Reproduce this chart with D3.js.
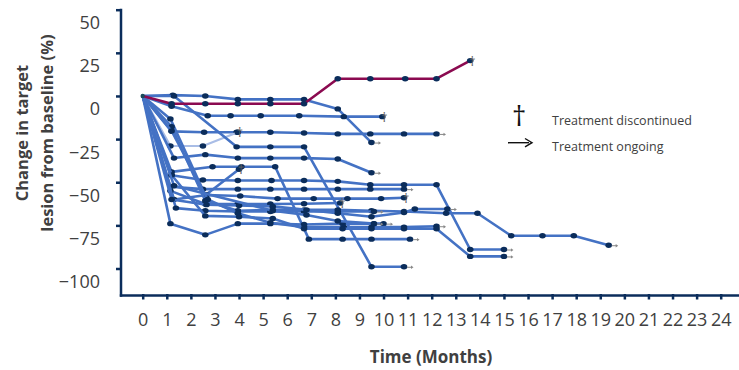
<!DOCTYPE html>
<html>
<head>
<meta charset="utf-8">
<script src="https://cdn.jsdelivr.net/npm/d3@7"></script>
<style>
  body { margin: 0; background: #fff; }
  svg text { font-family: "Open Sans", "Noto Sans", sans-serif; }
</style>
</head>
<body>
<div id="chart"></div>
<script>
// --- DATA ---
// each patient: [month, % change from baseline]
const pt01 = [[0,0],[1.2,-4.5],[2.6,-4.5],[3.95,-4.5],[5.3,-4.5],[6.7,-4.5],[8.1,10],[9.45,10],[10.9,10],[12.2,10],[13.6,20.5]];
const pt02 = [[0,0],[1.25,0.5],[2.6,0],[3.95,-2],[5.3,-2],[6.7,-2],[8.1,-7.5],[9.5,-27]];
const pt03 = [[0,0],[1.2,-6],[2.7,-11.5],[3.65,-11.5],[4.9,-11.5],[6.5,-11.5],[8.35,-12],[9.95,-12]];
const pt04 = [[0,0],[1.2,-20.5],[2.55,-21],[3.9,-21],[5.3,-21],[6.7,-21.5],[8.1,-22],[9.45,-22],[10.85,-22],[12.2,-22]];
const pt05 = [[0,0],[1.15,-29],[2.5,-29],[3.95,-21]];
const pt06 = [[0,0],[1.3,0],[3.9,-29.5],[5.3,-29.5],[6.7,-29.5],[9.5,-99],[10.85,-99]];
const pt07 = [[0,0],[1.3,-36],[2.6,-34],[3.95,-36],[5.3,-36],[6.7,-36],[8.1,-36.5],[9.5,-44.5]];
const pt08 = [[0,0],[1.2,-44],[2.9,-41],[4.1,-41],[5.5,-41],[6.9,-83],[8.3,-83],[9.5,-83],[11.1,-83]];
const pt09 = [[0,0],[1.15,-13.3],[2.6,-57.5],[4.0,-42.5]];
const pt10 = [[0,0],[1.2,-46],[2.5,-48.7],[3.95,-49],[5.35,-49],[6.7,-49],[8.1,-49.5],[9.45,-51.5],[10.85,-51.5],[12.2,-51.5],[13.6,-89],[15,-89]];
const pt11 = [[0,0],[1.15,-52.6],[2.5,-54],[3.95,-54],[5.3,-54],[6.7,-54],[8.1,-54],[9.45,-54],[10.85,-54]];
const pt12 = [[0,0],[1.3,-60],[2.65,-57.4],[4.05,-58],[5.6,-59.5],[7.1,-59.5],[8.5,-59.5],[9.9,-59.5],[10.85,-59]];
const pt13 = [[0,0],[1.15,-55],[2.6,-62.6],[3.95,-62.6],[5.3,-62.6],[6.7,-62.5],[8.2,-62]];
const pt14 = [[0,0],[1.2,-17.8],[2.6,-60.7],[3.95,-66.5],[5.4,-66],[6.7,-66],[8.1,-66],[9.5,-66.5],[10.85,-67],[12.6,-68],[13.9,-68],[15.3,-81],[16.6,-81],[17.9,-81],[19.35,-86.5]];
const pt15 = [[0,0],[1.38,-65],[2.6,-66.5],[3.95,-67],[5.3,-67],[6.7,-67],[8.1,-67],[9.6,-67]];
const pt16 = [[0,0],[1.15,-74],[2.6,-80.5],[3.95,-74],[5.3,-74],[6.7,-74.5],[8.3,-74],[9.6,-74],[10,-74]];
const pt17 = [[0,0],[1.2,-20.3],[2.7,-60],[3.95,-68],[5.3,-73.5],[6.7,-76],[8.35,-76],[9.5,-76],[10.85,-76],[12.2,-75.5]];
const pt18 = [[0,0],[1.2,-45.8],[2.6,-69.5],[4.0,-70],[5.4,-71],[6.7,-77],[8.3,-77],[9.5,-77],[10.85,-77],[12.2,-77],[13.6,-93],[15,-93]];
const pt19 = [[0,0],[1.2,-60],[2.65,-63],[4.0,-63.5],[5.4,-64],[6.8,-66],[8.1,-68],[9.5,-70],[10.85,-67.5],[11.3,-65.5],[12.65,-65.5]];
const pt20 = [[0,0],[1.3,-52],[5.4,-66.5],[6.8,-69],[8.1,-72.5],[9.6,-74]];

const patients = [pt02, pt03, pt04, pt05, pt06, pt07, pt08, pt09, pt10, pt11, pt12, pt13, pt14, pt15, pt16, pt17, pt18, pt19, pt20, pt01];
const endings  = ["arrow", "dagger", "arrow", "dagger", "arrow", "arrow", "arrow", "dagger", "arrow", "arrow", "dagger", "dagger", "arrow", "arrow", "arrow", "arrow", "arrow", "arrow", "arrow", "dagger"];
const lineKinds = ["blue", "blue", "blue", "light", "blue", "blue", "blue", "blue", "blue", "blue", "blue", "blue", "blue", "blue", "blue", "blue", "blue", "blue", "blue", "maroon"];

const xTicks = d3.range(0, 25);
const yTicks = [50, 25, 0, -25, -50, -75, -100];
const legendItems = ["Treatment discontinued", "Treatment ongoing"];

// --- LAYOUT ---
const width = 739, height = 370;
const navy = "#0b2d5b";
const textGray = "#404040";
const colors = { blue: "#4472c4", light: "#a9bde6", maroon: "#8b0a50" };

const x = d3.scaleLinear().domain([0, 24]).range([142.7, 720.7]);
const y = d3.scaleLinear().domain([-100, 50]).range([268.5, 9.7]);
const axisX = 121;
const axisY = 295.5;

const svg = d3.select("#chart").append("svg")
    .attr("width", width)
    .attr("height", height);

// y axis
const yAxis = svg.append("g")
    .attr("transform", `translate(${axisX},0)`)
    .call(d3.axisLeft(y).tickValues(yTicks).tickSize(5).tickPadding(16).tickFormat(d3.format("d")));
yAxis.select(".domain").remove();
yAxis.selectAll(".tick line").attr("stroke", navy).attr("stroke-width", 2.5);
yAxis.selectAll(".tick text")
    .attr("dy", "1.05em")
    .attr("fill", textGray)
    .style("font-size", "18px");
svg.append("line")
    .attr("x1", axisX).attr("x2", axisX)
    .attr("y1", y(50) - 1).attr("y2", axisY + 1.2)
    .attr("stroke", navy).attr("stroke-width", 2.5);

// x axis
const xAxis = svg.append("g")
    .attr("transform", `translate(0,${axisY})`)
    .call(d3.axisBottom(x).tickValues(xTicks).tickSize(4).tickPadding(14));
xAxis.select(".domain").remove();
xAxis.selectAll(".tick line").attr("stroke", navy).attr("stroke-width", 2.5).attr("y1", -1.5);
xAxis.selectAll(".tick text")
    .attr("fill", textGray)
    .style("font-size", "18px");
svg.append("line")
    .attr("x1", axisX - 1.2).attr("x2", width)
    .attr("y1", axisY).attr("y2", axisY)
    .attr("stroke", navy).attr("stroke-width", 2.5);

// axis titles
svg.append("text")
    .attr("x", 431).attr("y", 363)
    .attr("text-anchor", "middle")
    .attr("fill", textGray)
    .style("font-size", "17px").style("font-weight", "bold")
    .text("Time (Months)");

const yTitle = svg.append("text")
    .attr("transform", "translate(0,133) rotate(-90)")
    .attr("text-anchor", "middle")
    .attr("fill", textGray)
    .style("font-size", "16.5px").style("font-weight", "bold");
yTitle.append("tspan").attr("x", 0).attr("y", 28).text("Change in target");
yTitle.append("tspan").attr("x", 0).attr("y", 53).text("lesion from baseline (%)");

// --- SPIDER LINES ---
const line = d3.line().x(d => x(d[0])).y(d => y(d[1]));

const plot = svg.append("g");
const groups = plot.selectAll("g.patient")
    .data(patients)
    .join("g")
    .attr("class", "patient");

groups.append("path")
    .attr("d", d => line(d))
    .attr("fill", "none")
    .attr("stroke", (d, i) => colors[lineKinds[i]])
    .attr("stroke-width", (d, i) => lineKinds[i] === "light" ? 2.2 : 2.6)
    .attr("stroke-linejoin", "round");

groups.selectAll("ellipse")
    .data(d => d.slice(1))
    .join("ellipse")
    .attr("cx", d => x(d[0]))
    .attr("cy", d => y(d[1]))
    .attr("rx", 3.3)
    .attr("ry", 2.7)
    .attr("fill", navy);

// end-of-line symbols
const ends = patients.map((p, i) => ({ pt: p[p.length - 1], kind: endings[i] }));

plot.selectAll("text.dagger")
    .data(ends.filter(e => e.kind === "dagger"))
    .join("text")
    .attr("class", "dagger")
    .attr("x", d => x(d.pt[0]) + 2)
    .attr("y", d => y(d.pt[1]) + 5)
    .attr("text-anchor", "middle")
    .attr("fill", "#666")
    .style("font-size", "13px")
    .text("\u2020");

const arrows = plot.selectAll("g.arrow")
    .data(ends.filter(e => e.kind === "arrow"))
    .join("g")
    .attr("class", "arrow")
    .attr("transform", d => `translate(${x(d.pt[0])},${y(d.pt[1])})`);
arrows.append("line")
    .attr("x1", 3).attr("x2", 8).attr("y1", 0.5).attr("y2", 0.5)
    .attr("stroke", "#888").attr("stroke-width", 1);
arrows.append("path")
    .attr("d", "M7,-1.2 L9.5,0.5 L7,2.2 Z")
    .attr("fill", "#888");

// baseline marker
svg.append("circle")
    .attr("cx", x(0)).attr("cy", y(0))
    .attr("r", 2.2)
    .attr("fill", "#1a4a5a");

// --- LEGEND ---
const legend = svg.append("g").attr("transform", "translate(508,0)");
legend.append("text")
    .attr("x", 11).attr("y", 126)
    .attr("text-anchor", "middle")
    .attr("fill", "#111")
    .style("font-size", "28px")
    .text("\u2020");
legend.append("line")
    .attr("x1", 0).attr("x2", 21).attr("y1", 142.7).attr("y2", 142.7)
    .attr("stroke", "#111").attr("stroke-width", 1.4);
legend.append("path")
    .attr("d", "M17,138.5 L24,142.7 L17,146.9")
    .attr("fill", "none").attr("stroke", "#111").attr("stroke-width", 1.4);

legend.selectAll("text.item")
    .data(legendItems)
    .join("text")
    .attr("class", "item")
    .attr("x", 44)
    .attr("y", (d, i) => 124.5 + i * 26)
    .attr("fill", textGray)
    .style("font-size", "12.5px")
    .text(d => d);
</script>
</body>
</html>
